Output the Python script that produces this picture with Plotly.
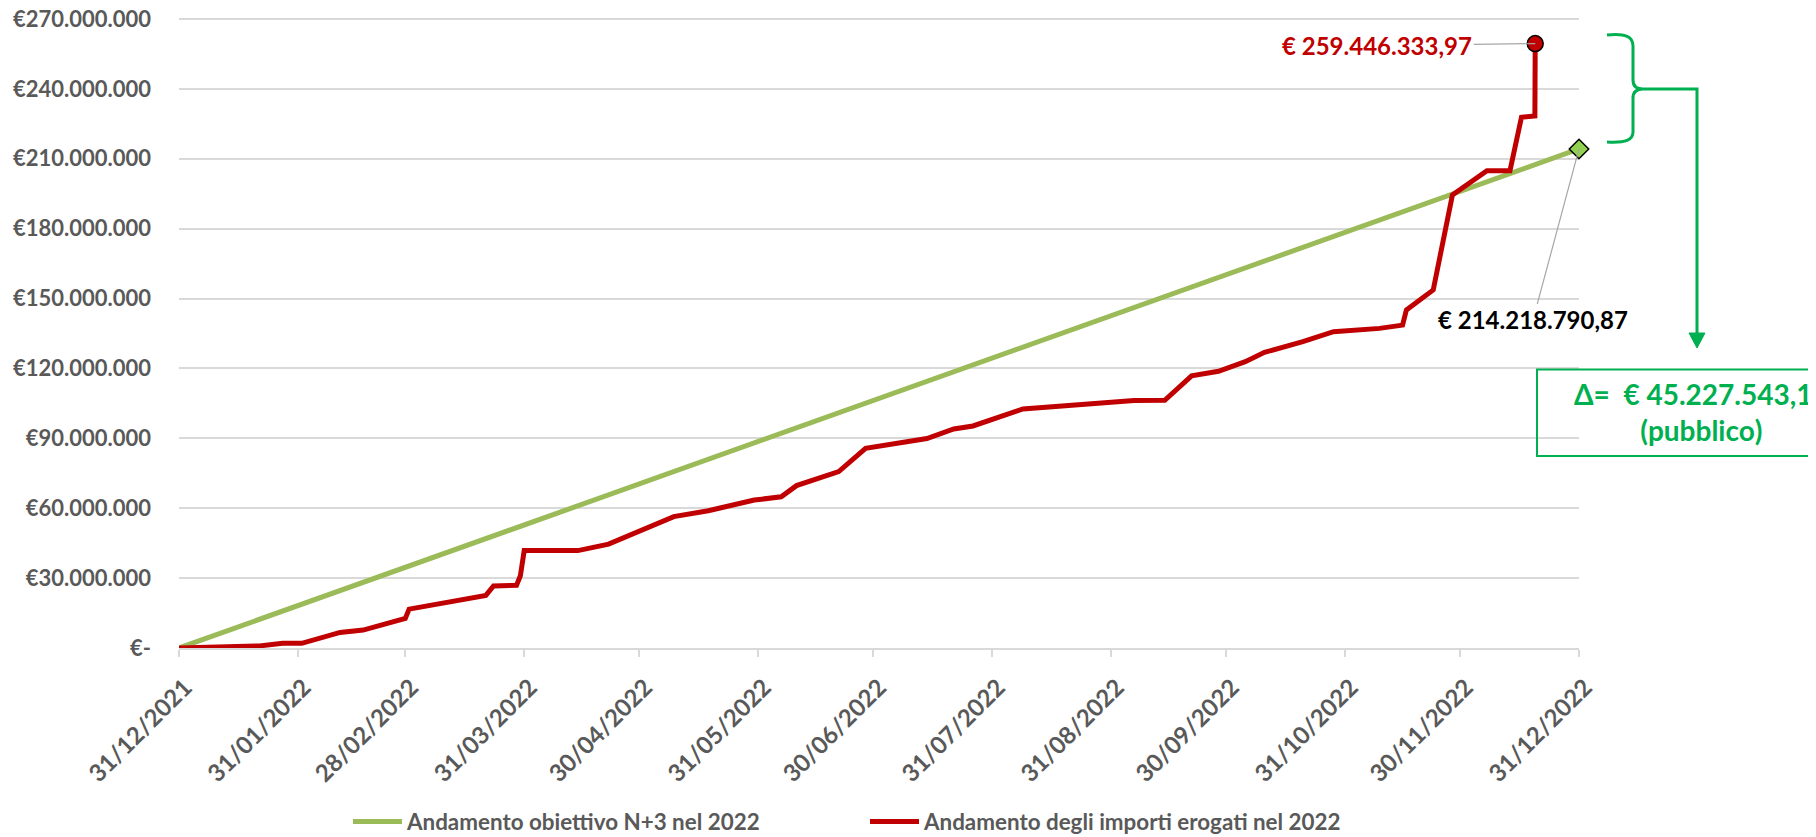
import plotly.graph_objects as go

# ---------------- data ----------------
target_dates = ["2021-12-31", "2022-12-31"]
target_values = [0, 214218790.87]

paid_dates = [
    "2021-12-31", "2022-01-21", "2022-01-27", "2022-02-01", "2022-02-11", "2022-02-17",
    "2022-02-28", "2022-03-01", "2022-03-21", "2022-03-23", "2022-03-29", "2022-03-30",
    "2022-03-31", "2022-04-14", "2022-04-22", "2022-04-30", "2022-05-09", "2022-05-18",
    "2022-05-30", "2022-06-06", "2022-06-10", "2022-06-21", "2022-06-28", "2022-07-14",
    "2022-07-21", "2022-07-26", "2022-08-08", "2022-09-06", "2022-09-14", "2022-09-21",
    "2022-09-28", "2022-10-05", "2022-10-10", "2022-10-20", "2022-10-28", "2022-11-09",
    "2022-11-15", "2022-11-16", "2022-11-23", "2022-11-28", "2022-12-07", "2022-12-13",
    "2022-12-16", "2022-12-19 12:00", "2022-12-19 14:00",
]
paid_values_m = [
    0, 0.9, 2.0, 2.0, 6.7, 7.7,
    12.7, 16.7, 22.6, 26.6, 26.9, 31.0,
    41.8, 41.8, 44.6, 50.4, 56.4, 58.9,
    63.5, 64.9, 69.7, 75.7, 85.7, 89.9,
    94.0, 95.3, 102.6, 106.2, 106.3, 116.8,
    118.8, 122.9, 126.9, 131.5, 135.8, 137.2,
    138.6, 145.1, 153.7, 194.5, 204.9, 204.9,
    227.8, 228.4, 259.44633397,
]
paid_values = [v * 1e6 for v in paid_values_m]

tick_dates = ["2021-12-31", "2022-01-31", "2022-02-28", "2022-03-31", "2022-04-30",
              "2022-05-31", "2022-06-30", "2022-07-31", "2022-08-31", "2022-09-30",
              "2022-10-31", "2022-11-30", "2022-12-31"]
tick_labels = ["31/12/2021", "31/01/2022", "28/02/2022", "31/03/2022", "30/04/2022",
               "31/05/2022", "30/06/2022", "31/07/2022", "31/08/2022", "30/09/2022",
               "31/10/2022", "30/11/2022", "31/12/2022"]
y_ticks = [0, 30e6, 60e6, 90e6, 120e6, 150e6, 180e6, 210e6, 240e6, 270e6]
y_labels = ["€-", "€30.000.000", "€60.000.000", "€90.000.000", "€120.000.000",
            "€150.000.000", "€180.000.000", "€210.000.000", "€240.000.000", "€270.000.000"]

label_paid = "€ 259.446.333,97"
label_target = "€ 214.218.790,87"
delta_text = "Δ=  € 45.227.543,10<br>(pubblico)"
name_target = "Andamento obiettivo N+3 nel 2022"
name_paid = "Andamento degli importi erogati nel 2022"

GREEN = "#9BBB59"
RED = "#C00000"
ANN_GREEN = "#00B050"
GRID = "#D9D9D9"
TXT = "#595959"
FONT = "Lato"

# layout geometry (screen pixels); the page body has an 8px default margin
OFF = 8
W, H = 1816 - OFF, 837 - OFF
L, R_EDGE, TOP, BOTTOM = 179, 1579, 17, 648   # plot area on screen
Y_TOP_GRID = 19                                # screen y of the 270M gridline
Y_MAX = 270e6 * (BOTTOM - TOP) / (BOTTOM - Y_TOP_GRID)


def px(xp):
    return (xp - L) / (R_EDGE - L)


def py(yp):
    return (BOTTOM - yp) / (BOTTOM - TOP)


fig = go.Figure()
fig.add_trace(go.Scatter(x=target_dates, y=target_values, mode="lines", name=name_target,
                         line=dict(color=GREEN, width=5)))
fig.add_trace(go.Scatter(x=paid_dates, y=paid_values, mode="lines", name=name_paid,
                         line=dict(color=RED, width=5)))
fig.add_trace(go.Scatter(x=[target_dates[-1]], y=[target_values[-1]], mode="markers",
                         showlegend=False, cliponaxis=False,
                         marker=dict(symbol="diamond", size=15, color="#92D050",
                                     line=dict(color="black", width=1.5))))
fig.add_trace(go.Scatter(x=[paid_dates[-1]], y=[paid_values[-1]], mode="markers",
                         showlegend=False, cliponaxis=False,
                         marker=dict(symbol="circle", size=16, color=RED,
                                     line=dict(color="black", width=1.5))))

annotations = [
    dict(x=paid_dates[-1], y=paid_values[-1], xref="x", yref="y", text=label_paid,
         showarrow=True, arrowhead=0, arrowcolor="#A6A6A6", arrowwidth=1.2,
         ax=-158, ay=2, standoff=0,
         font=dict(family=FONT, size=24, color=RED, weight="bold")),
    dict(x=target_dates[-1], y=target_values[-1], xref="x", yref="y", text=label_target,
         showarrow=True, arrowhead=0, arrowcolor="#A6A6A6", arrowwidth=1.2,
         ax=-46, ay=171, standoff=0,
         font=dict(family=FONT, size=24, color="black", weight="bold")),
    dict(x=px(1701), y=py(412), xref="paper", yref="paper", text=delta_text,
         showarrow=False, xanchor="center", yanchor="middle", align="center",
         font=dict(family=FONT, size=28, color=ANN_GREEN, weight="bold")),
]

brace = (f"M {px(1607)},{py(35)} C {px(1626)},{py(33)} {px(1633)},{py(37)} {px(1633)},{py(46)} "
         f"L {px(1633)},{py(80)} C {px(1633)},{py(86)} {px(1636)},{py(89)} {px(1643)},{py(89)} "
         f"C {px(1636)},{py(89)} {px(1633)},{py(92)} {px(1633)},{py(98)} "
         f"L {px(1633)},{py(132)} C {px(1633)},{py(140)} {px(1626)},{py(143)} {px(1607)},{py(142)}")
connector = f"M {px(1643)},{py(89)} L {px(1697)},{py(89)} L {px(1697)},{py(334)}"
arrow_head = f"M {px(1689)},{py(333)} L {px(1705)},{py(333)} L {px(1697)},{py(348)} Z"

shapes = [
    dict(type="path", xref="paper", yref="paper", path=brace,
         line=dict(color=ANN_GREEN, width=3)),
    dict(type="path", xref="paper", yref="paper", path=connector,
         line=dict(color=ANN_GREEN, width=3)),
    dict(type="path", xref="paper", yref="paper", path=arrow_head,
         fillcolor=ANN_GREEN, line=dict(color=ANN_GREEN, width=1)),
    dict(type="rect", xref="paper", yref="paper", x0=px(1537), x1=px(1880),
         y0=py(456), y1=py(369.5), line=dict(color=ANN_GREEN, width=2)),
]

fig.update_layout(
    width=W, height=H,
    margin=dict(l=L - OFF, r=W - (R_EDGE - OFF), t=TOP - OFF, b=H - (BOTTOM - OFF),
                autoexpand=False),
    paper_bgcolor="white", plot_bgcolor="white",
    showlegend=True,
    legend=dict(orientation="h", xref="container", yref="container",
                x=(348 - OFF) / W, xanchor="left", y=1 - (822 - OFF) / H, yanchor="middle",
                font=dict(family=FONT, size=22.4, color=TXT, weight="bold"),
                entrywidth=453, entrywidthmode="pixels", itemwidth=49),
    annotations=annotations,
    shapes=shapes,
    xaxis=dict(type="date", range=["2021-12-31", "2022-12-31"], automargin=False,
               tickmode="array", tickvals=tick_dates, ticktext=tick_labels,
               tickangle=-45, ticks="outside", ticklen=7, tickcolor=GRID, tickwidth=1.5,
               showline=True, linecolor=GRID, linewidth=1.5, showgrid=False,
               zeroline=False, ticklabelstandoff=7, ticklabelshift=6,
               ticklabeloverflow="allow",
               tickfont=dict(family=FONT, size=24, color=TXT, weight="bold")),
    yaxis=dict(range=[0, Y_MAX], tickmode="array", tickvals=y_ticks, ticktext=y_labels,
               automargin=False, ticklabeloverflow="allow",
               showgrid=True, gridcolor=GRID, gridwidth=1.5, zeroline=False,
               showline=False, ticks="", ticklabelstandoff=27,
               tickfont=dict(family=FONT, size=22, color=TXT, weight="bold")),
)

fig.write_html("out.html")
